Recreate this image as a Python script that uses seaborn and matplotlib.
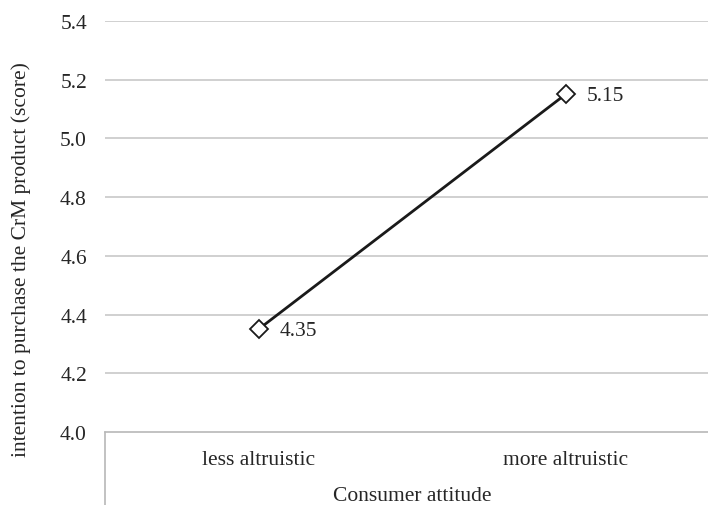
import matplotlib
matplotlib.use("Agg")
import matplotlib.pyplot as plt
import seaborn as sns
import pandas as pd

# values
attitude = ["less altruistic", "more altruistic"]
intention = [4.35, 5.15]
y_ticks = [4.0, 4.2, 4.4, 4.6, 4.8, 5.0, 5.2, 5.4]

df = pd.DataFrame({"attitude": attitude, "intention": intention})

sns.set_theme(style="white")
plt.rcParams["font.family"] = ["Liberation Serif", "DejaVu Serif"]

fs = 15.5
txt_col = "#262626"

fig = plt.figure(figsize=(7.08, 5.06), dpi=100)
ax = fig.add_axes([105 / 708, 1 - 433 / 506, 614 / 708, 411 / 506])

grid_col = "#c4c4c4"
for y in y_ticks[1:]:
    ax.axhline(y, color=grid_col, lw=1.1, zorder=0)

sns.lineplot(
    data=df, x="attitude", y="intention", ax=ax,
    color="#1a1a1a", linewidth=2.0, marker="D", markersize=9,
    markerfacecolor="white", markeredgecolor="#1a1a1a", markeredgewidth=1.3,
    zorder=3,
)

for i, v in enumerate(intention):
    ax.annotate(f"{v:.2f}", (i, v), xytext=(15, -1), textcoords="offset points",
                ha="left", va="center", fontsize=fs, color=txt_col)

ax.set_xlim(-0.5, 1.5)
ax.set_ylim(4.0, 5.4)
ax.set_yticks(y_ticks)
ax.set_yticklabels([f"{t:.1f}" for t in y_ticks])

for side in ["top", "right", "left"]:
    ax.spines[side].set_visible(False)
ax.spines["bottom"].set_color("#b8b8b8")
ax.spines["bottom"].set_linewidth(1.2)

# Excel-style frame line under the category axis
ax.axvline(-0.5, ymin=-0.2, ymax=0, color="#b8b8b8", lw=1.2, clip_on=False)

ax.tick_params(axis="both", length=0, labelsize=fs, colors=txt_col)
ax.tick_params(axis="y", pad=13)
ax.tick_params(axis="x", pad=13)

ax.set_xlabel("Consumer attitude", fontsize=fs, color=txt_col, labelpad=12)
ax.set_ylabel("intention to purchase the CrM product (score)", fontsize=fs,
              color=txt_col)
# label is centred on the whole plot area incl. the category strip
ax.yaxis.set_label_coords(-0.120, 0.421)

fig.savefig("out.png", dpi=100)
